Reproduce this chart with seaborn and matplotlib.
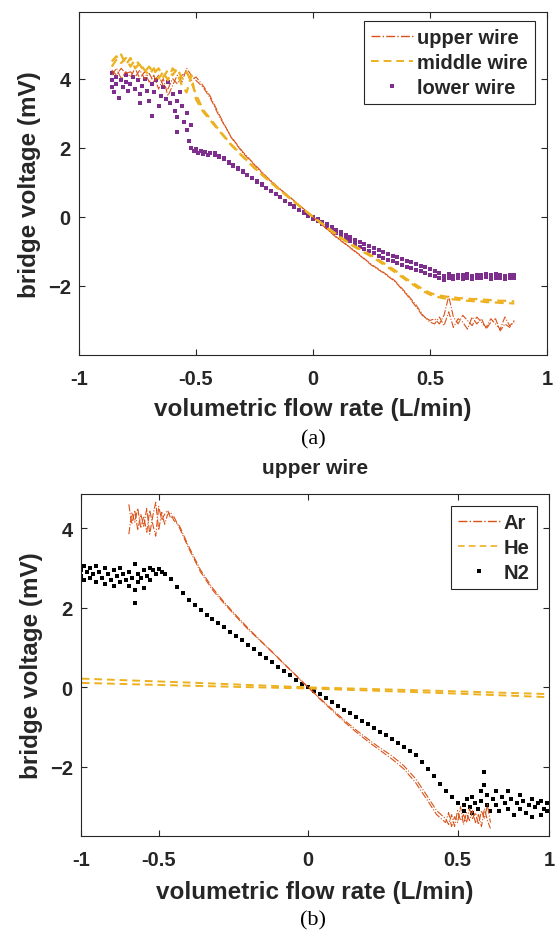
import matplotlib
matplotlib.use('Agg')
import matplotlib.pyplot as plt
from matplotlib.lines import Line2D
import seaborn as sns

# ---------------- (a) three wires ----------------
top_x = [-0.86, -0.84, -0.82, -0.80, -0.78, -0.76, -0.74, -0.72, -0.70, -0.68,
         -0.66, -0.64, -0.62, -0.60, -0.58, -0.56, -0.54, -0.52, -0.50,
         -0.47, -0.44, -0.40, -0.35, -0.30, -0.25, -0.20, -0.15, -0.10, -0.05,
         0.0, 0.05, 0.10, 0.15, 0.20, 0.25, 0.30, 0.35, 0.40, 0.44, 0.47,
         0.50, 0.52, 0.54, 0.56, 0.58, 0.60, 0.62, 0.64, 0.66, 0.68,
         0.70, 0.72, 0.74, 0.76, 0.78, 0.80, 0.82, 0.84, 0.86]

upper_a = [4.25, 4.1, 4.3, 4.15, 4.2, 4.05, 4.25, 4.0, 4.15, 3.9, 4.1, 3.8, 3.7, 4.0, 3.85, 4.1, 4.2, 3.95, 4.05,
           3.8, 3.5, 2.95, 2.3, 1.85, 1.5, 1.15, 0.85, 0.57, 0.28, 0.0, -0.3, -0.6, -0.85, -1.12, -1.4, -1.62,
           -1.87, -2.25, -2.6, -2.88,
           -3.0, -2.95, -3.1, -2.85, -2.3, -2.9, -3.1, -2.85, -3.0, -3.15, -2.9, -3.05, -3.2, -2.95, -3.1,
           -3.25, -2.9, -3.15, -3.05]
upper_b = [4.1, 4.3, 4.0, 4.2, 4.05, 4.3, 4.0, 4.2, 3.9, 4.1, 3.7, 4.0, 3.5, 3.8, 4.1, 3.9, 4.3, 4.1, 3.95,
           3.75, 3.45, 2.9, 2.32, 1.88, 1.52, 1.17, 0.86, 0.58, 0.29, 0.0, -0.29, -0.58, -0.84, -1.1, -1.38,
           -1.6, -1.85, -2.22, -2.55, -2.85,
           -3.05, -3.1, -2.9, -3.15, -2.75, -3.2, -2.95, -3.05, -3.25, -2.9, -3.1, -2.95, -3.25, -3.05, -2.95,
           -3.3, -3.1, -3.2, -3.0]

middle_a = [4.5, 4.65, 4.45, 4.6, 4.35, 4.55, 4.4, 4.2, 4.35, 4.15, 4.3, 4.05, 4.25, 4.1, 4.3, 4.0, 4.2, 3.9, 3.55,
            3.1, 2.85, 2.5, 2.1, 1.75, 1.42, 1.12, 0.83, 0.55, 0.27, 0.0, -0.25, -0.5, -0.74, -0.93, -1.12,
            -1.33, -1.55, -1.8, -1.97, -2.1,
            -2.2, -2.25, -2.28, -2.3, -2.32, -2.33, -2.35, -2.36, -2.37, -2.38, -2.38, -2.4, -2.4, -2.41,
            -2.42, -2.43, -2.43, -2.44, -2.45]
middle_b = [4.35, 4.55, 4.7, 4.4, 4.6, 4.3, 4.45, 4.25, 4.1, 4.3, 4.0, 4.2, 3.95, 4.3, 4.15, 3.8, 3.6, 4.1, 3.4,
            3.05, 2.8, 2.48, 2.08, 1.74, 1.41, 1.11, 0.82, 0.54, 0.27, 0.0, -0.26, -0.52, -0.76, -0.96, -1.15,
            -1.37, -1.6, -1.84, -2.02, -2.15,
            -2.25, -2.3, -2.33, -2.36, -2.37, -2.39, -2.4, -2.42, -2.43, -2.44, -2.45, -2.45, -2.47, -2.47,
            -2.48, -2.49, -2.5, -2.5, -2.51]

lower_x = [-0.42, -0.40, -0.38, -0.36, -0.34, -0.32, -0.30, -0.28, -0.26, -0.24, -0.22, -0.20, -0.18,
           -0.16, -0.14, -0.12, -0.10, -0.08, -0.06, -0.04, -0.02, 0.00, 0.02, 0.04, 0.06, 0.08, 0.10,
           0.12, 0.14, 0.16, 0.18, 0.20, 0.22, 0.24, 0.26, 0.28, 0.30, 0.32, 0.34, 0.36, 0.38, 0.40,
           0.42, 0.44, 0.46, 0.48, 0.50, 0.52, 0.54, 0.56, 0.58, 0.60, 0.62, 0.64, 0.66, 0.68, 0.70,
           0.72, 0.74, 0.76, 0.78, 0.80, 0.82, 0.84, 0.86]
lower_a = [1.80, 1.74, 1.66, 1.57, 1.48, 1.39, 1.30, 1.21, 1.12, 1.02, 0.93, 0.83, 0.74, 0.65, 0.56,
           0.47, 0.38, 0.30, 0.21, 0.13, 0.06, 0.0, -0.07, -0.14, -0.22, -0.29, -0.37, -0.45, -0.52,
           -0.59, -0.67, -0.74, -0.80, -0.85, -0.91, -0.96, -1.02, -1.07, -1.12, -1.17, -1.22, -1.27,
           -1.32, -1.37, -1.41, -1.46, -1.50, -1.56, -1.62, -1.70, -1.66, -1.70, -1.67, -1.69, -1.66,
           -1.70, -1.67, -1.68, -1.65, -1.69, -1.66, -1.68, -1.70, -1.67, -1.69]
lower_b = [1.84, 1.77, 1.69, 1.60, 1.50, 1.41, 1.32, 1.22, 1.13, 1.03, 0.94, 0.84, 0.74, 0.65, 0.56,
           0.46, 0.37, 0.28, 0.19, 0.10, 0.02, -0.05, -0.13, -0.21, -0.30, -0.38, -0.47, -0.55, -0.63,
           -0.71, -0.79, -0.87, -0.94, -1.0, -1.06, -1.12, -1.18, -1.24, -1.29, -1.34, -1.39, -1.44,
           -1.49, -1.54, -1.58, -1.63, -1.67, -1.72, -1.77, -1.82, -1.78, -1.80, -1.76, -1.79, -1.77,
           -1.80, -1.76, -1.78, -1.75, -1.79, -1.77, -1.78, -1.80, -1.76, -1.78]

# noisy start of the lower wire
lower_left_x = [-0.86, -0.86, -0.86, -0.85, -0.84, -0.84, -0.83, -0.82, -0.81, -0.80, -0.80, -0.79,
                -0.78, -0.77, -0.76, -0.75, -0.74, -0.74, -0.73, -0.72, -0.71, -0.70, -0.69, -0.69,
                -0.68, -0.67, -0.66, -0.65, -0.64, -0.63, -0.62, -0.61, -0.60, -0.59, -0.58, -0.58,
                -0.58, -0.57, -0.56, -0.55, -0.54, -0.54, -0.53, -0.52, -0.52, -0.51, -0.50, -0.49,
                -0.48, -0.47, -0.46, -0.45, -0.44]
lower_left_y = [4.15, 3.95, 3.75, 3.6, 4.05, 3.85, 3.45, 3.95, 3.75, 4.1, 3.9, 3.65,
                3.85, 4.05, 3.7, 3.95, 3.55, 3.3, 3.8, 4.0, 3.65, 3.35, 3.85, 2.93,
                3.6, 3.95, 3.2, 3.5, 3.75, 3.4, 3.9, 3.3, 3.55, 3.05, 3.35, 2.9,
                2.45, 3.6, 3.2, 2.75, 3.0, 2.5, 2.2, 2.65, 2.0, 1.9, 1.95, 1.85,
                1.9, 1.82, 1.88, 1.8, 1.85]

# ---------------- (b) upper wire, three gases ----------------
ar_x = [-0.60, -0.59, -0.58, -0.57, -0.56, -0.55, -0.54, -0.53, -0.52, -0.51, -0.50, -0.49, -0.48,
        -0.47, -0.46, -0.45,
        -0.43, -0.40, -0.36, -0.32, -0.28, -0.24, -0.20, -0.16, -0.12, -0.08, -0.04, 0.0, 0.04, 0.08,
        0.12, 0.16, 0.20, 0.24, 0.28, 0.32, 0.36, 0.40, 0.43,
        0.46, 0.47, 0.48, 0.49, 0.50, 0.51, 0.52, 0.53, 0.54, 0.55, 0.56, 0.57, 0.58, 0.59, 0.60, 0.61]
ar_a = [3.85, 4.4, 4.15, 4.5, 4.0, 4.3, 3.9, 4.45, 4.1, 3.8, 4.55, 4.2, 4.35, 4.45, 4.25, 4.3,
        4.0, 3.5, 2.9, 2.45, 2.1, 1.77, 1.45, 1.17, 0.88, 0.58, 0.29, 0.0, -0.28, -0.55, -0.82, -1.07,
        -1.3, -1.52, -1.72, -1.97, -2.3, -2.75, -3.1,
        -3.3, -3.45, -3.2, -3.5, -3.1, -3.35, -3.2, -3.4, -3.05, -3.3, -3.15, -3.45, -3.1, -3.3, -2.95, -3.4]
ar_b = [4.6, 4.1, 4.45, 3.95, 4.35, 4.05, 4.5, 3.85, 4.3, 4.65, 3.95, 4.4, 4.1, 4.35, 4.4, 4.2,
        4.05, 3.55, 2.95, 2.5, 2.13, 1.8, 1.48, 1.18, 0.89, 0.59, 0.3, 0.0, -0.3, -0.58, -0.86, -1.12,
        -1.36, -1.58, -1.8, -2.05, -2.4, -2.85, -3.2,
        -3.4, -3.15, -3.5, -3.25, -3.4, -3.0, -3.45, -3.15, -3.35, -3.1, -3.4, -3.2, -3.5, -3.05, -3.35, -3.55]

he_x = [-0.80, -0.40, 0.0, 0.40, 0.85]
he_a = [0.23, 0.12, 0.0, -0.08, -0.18]
he_b = [0.12, 0.04, -0.03, -0.13, -0.26]

n2_x = [-0.46, -0.44, -0.42, -0.40, -0.38, -0.36, -0.34, -0.32, -0.30, -0.28, -0.26, -0.24, -0.22,
        -0.20, -0.18, -0.16, -0.14, -0.12, -0.10, -0.08, -0.06, -0.04, -0.02, 0.00, 0.02, 0.04, 0.06,
        0.08, 0.10, 0.12, 0.14, 0.16, 0.18, 0.20, 0.22, 0.24, 0.26, 0.28, 0.30, 0.32, 0.34, 0.36,
        0.38, 0.40, 0.42, 0.44, 0.46, 0.48, 0.50]
n2_y = [2.72, 2.52, 2.36, 2.20, 2.06, 1.94, 1.83, 1.73, 1.62, 1.51, 1.40, 1.29, 1.18, 1.07, 0.96,
        0.85, 0.74, 0.63, 0.52, 0.41, 0.30, 0.19, 0.09, 0.0, -0.09, -0.18, -0.27, -0.37, -0.46, -0.56,
        -0.65, -0.74, -0.84, -0.93, -1.03, -1.12, -1.21, -1.30, -1.40, -1.49, -1.60, -1.71, -1.88,
        -2.06, -2.24, -2.42, -2.60, -2.76, -2.90]
n2_left_x = [-0.76, -0.76, -0.75, -0.75, -0.74, -0.73, -0.73, -0.72, -0.71, -0.71, -0.70, -0.69,
             -0.68, -0.68, -0.67, -0.66, -0.65, -0.65, -0.64, -0.63, -0.63, -0.62, -0.61, -0.60,
             -0.60, -0.59, -0.58, -0.58, -0.58, -0.57, -0.57, -0.56, -0.55, -0.55, -0.54, -0.53,
             -0.53, -0.52, -0.51, -0.50, -0.49, -0.48]
n2_left_y = [2.95, 2.8, 3.05, 2.7, 2.9, 3.0, 2.75, 2.85, 3.05, 2.65, 2.9, 2.75,
             3.0, 2.6, 2.85, 2.7, 2.95, 2.55, 2.8, 3.0, 2.65, 2.85, 2.7, 2.9,
             2.55, 2.75, 2.45, 3.1, 2.12, 2.85, 2.65, 2.75, 2.95, 2.5, 2.8, 3.0,
             2.7, 2.95, 2.85, 2.98, 2.9, 2.85]
n2_right_x = [0.52, 0.52, 0.53, 0.54, 0.55, 0.55, 0.56, 0.57, 0.58, 0.58, 0.59, 0.59, 0.60, 0.60,
              0.61, 0.62, 0.63, 0.63, 0.64, 0.65, 0.66, 0.67, 0.67, 0.68, 0.69, 0.70, 0.71, 0.71,
              0.72, 0.73, 0.74, 0.75, 0.75, 0.76, 0.77, 0.78, 0.78, 0.79, 0.80, 0.80]
n2_right_y = [-2.95, -3.1, -2.8, -3.0, -3.15, -2.75, -2.9, -3.05, -2.6, -2.85, -2.12, -2.45, -2.95,
              -2.7, -3.1, -2.8, -2.6, -2.95, -3.1, -2.75, -2.9, -2.6, -3.05, -2.8, -3.2, -2.9, -2.7,
              -3.05, -2.85, -3.15, -2.95, -3.25, -2.8, -3.0, -2.9, -3.2, -2.85, -3.05, -3.1, -2.9]

top_labels = ['upper wire', 'middle wire', 'lower wire']
gas_labels = ['Ar', 'He', 'N2']
x_ticks_b = [-0.76, -0.5, 0, 0.5, 0.806]
x_ticklabels_b = ['-1', '-0.5', '0', '0.5', '1']

ORANGE = '#D95319'
YELLOW = '#EDB120'
PURPLE = '#7E2F8E'
INK = '#262626'

sns.set_style('ticks')
plt.rcParams['font.family'] = ['Liberation Sans', 'DejaVu Sans']
plt.rcParams['font.weight'] = 'bold'
plt.rcParams['axes.labelweight'] = 'bold'


def style_axes(ax):
    ax.tick_params(direction='in', top=True, right=True, length=4, width=0.8,
                   colors=INK, labelsize=14.5)
    ax.tick_params(axis='x', pad=10)
    ax.tick_params(axis='y', pad=6)
    for s in ax.spines.values():
        s.set_color(INK)
        s.set_linewidth(0.8)


def line(ax, x, y, color, ls, lw):
    sns.lineplot(x=x, y=y, ax=ax, color=color, linestyle=ls, lw=lw,
                 estimator=None, sort=False)


def dots(ax, x, y, color, s):
    sns.scatterplot(x=x, y=y, ax=ax, color=color, marker='s', s=s, linewidth=0)


fig = plt.figure(figsize=(5.57, 9.37), dpi=100)
ax1 = fig.add_axes([79 / 557, 1 - 356 / 937, 468 / 557, 343 / 937])
ax2 = fig.add_axes([81 / 557, 1 - 836.7 / 937, 468 / 557, 341.7 / 937])

# panel (a)
line(ax1, top_x, upper_a, ORANGE, '-.', 0.8)
line(ax1, top_x, upper_b, ORANGE, '-.', 0.8)
line(ax1, top_x, middle_a, YELLOW, (0, (4, 2.5)), 1.6)
line(ax1, top_x, middle_b, YELLOW, (0, (4, 2.5)), 1.6)
dots(ax1, lower_left_x, lower_left_y, PURPLE, 9)
dots(ax1, lower_x, lower_a, PURPLE, 9)
dots(ax1, lower_x, lower_b, PURPLE, 9)

ax1.set_xlim(-1, 1)
ax1.set_ylim(-4, 5.93)
ax1.set_xticks([-1, -0.5, 0, 0.5, 1])
ax1.set_xticklabels(['-1', '-0.5', '0', '0.5', '1'])
ax1.set_yticks([-2, 0, 2, 4])
style_axes(ax1)
ax1.set_xlabel('volumetric flow rate (L/min)', fontsize=17.5, color=INK, va='center')
ax1.xaxis.set_label_coords(0.5, -(410 - 356) / 343)
ax1.set_ylabel('bridge voltage (mV)', fontsize=17.5, color=INK, va='center')
ax1.yaxis.set_label_coords((30 - 79) / 468, 0.5)

h1 = [Line2D([], [], color=ORANGE, ls='-.', lw=1.0),
      Line2D([], [], color=YELLOW, ls=(0, (4, 2.5)), lw=1.4),
      Line2D([], [], color=PURPLE, marker='s', ls='none', ms=2.7, mew=0)]
leg1 = ax1.legend(h1, top_labels, loc='upper right', bbox_to_anchor=(0.974, 0.974),
                  borderaxespad=0, fancybox=False, framealpha=1, edgecolor=INK,
                  prop={'weight': 'bold', 'size': 14.5}, handlelength=2.1,
                  handletextpad=0.2, labelspacing=0.3, borderpad=0.35)
leg1.get_frame().set_linewidth(0.8)

# panel (b)
line(ax2, he_x, he_a, YELLOW, (0, (4, 2.5)), 1.4)
line(ax2, he_x, he_b, YELLOW, (0, (4, 2.5)), 1.4)
line(ax2, ar_x, ar_a, ORANGE, '-.', 0.8)
line(ax2, ar_x, ar_b, ORANGE, '-.', 0.8)
dots(ax2, n2_left_x, n2_left_y, 'black', 10)
dots(ax2, n2_x, n2_y, 'black', 10)
dots(ax2, n2_right_x, n2_right_y, 'black', 10)

ax2.set_xlim(-0.76, 0.806)
ax2.set_ylim(-3.73, 4.86)
ax2.set_xticks(x_ticks_b)
ax2.set_xticklabels(x_ticklabels_b)
ax2.set_yticks([-2, 0, 2, 4])
style_axes(ax2)
ax2.set_xlabel('volumetric flow rate (L/min)', fontsize=17.5, color=INK, va='center')
ax2.xaxis.set_label_coords(0.5, -(893 - 836.7) / 341.7)
ax2.set_ylabel('bridge voltage (mV)', fontsize=17.5, color=INK, va='center')
ax2.yaxis.set_label_coords((32 - 81) / 468, 0.5)
ax2.text(0.5, 1 + (495 - 468) / 341.7, 'upper wire', transform=ax2.transAxes,
         ha='center', va='center', fontsize=15, color=INK)

h2 = [Line2D([], [], color=ORANGE, ls='-.', lw=1.0),
      Line2D([], [], color=YELLOW, ls=(0, (4, 2.5)), lw=1.2),
      Line2D([], [], color='black', marker='s', ls='none', ms=2.7, mew=0)]
leg2 = ax2.legend(h2, gas_labels, loc='upper right', bbox_to_anchor=(0.974, 0.965),
                  borderaxespad=0, fancybox=False, framealpha=1, edgecolor=INK,
                  prop={'weight': 'bold', 'size': 14.5}, handlelength=2.1,
                  handletextpad=0.2, labelspacing=0.3, borderpad=0.35)
leg2.get_frame().set_linewidth(0.8)

fig.text(313 / 557, 1 - 440 / 937, '(a)', family='Liberation Serif', weight='normal',
         fontsize=16, ha='center', va='center', color='black')
fig.text(313 / 557, 1 - 921 / 937, '(b)', family='Liberation Serif', weight='normal',
         fontsize=16, ha='center', va='center', color='black')

fig.savefig('out.png', dpi=100)
